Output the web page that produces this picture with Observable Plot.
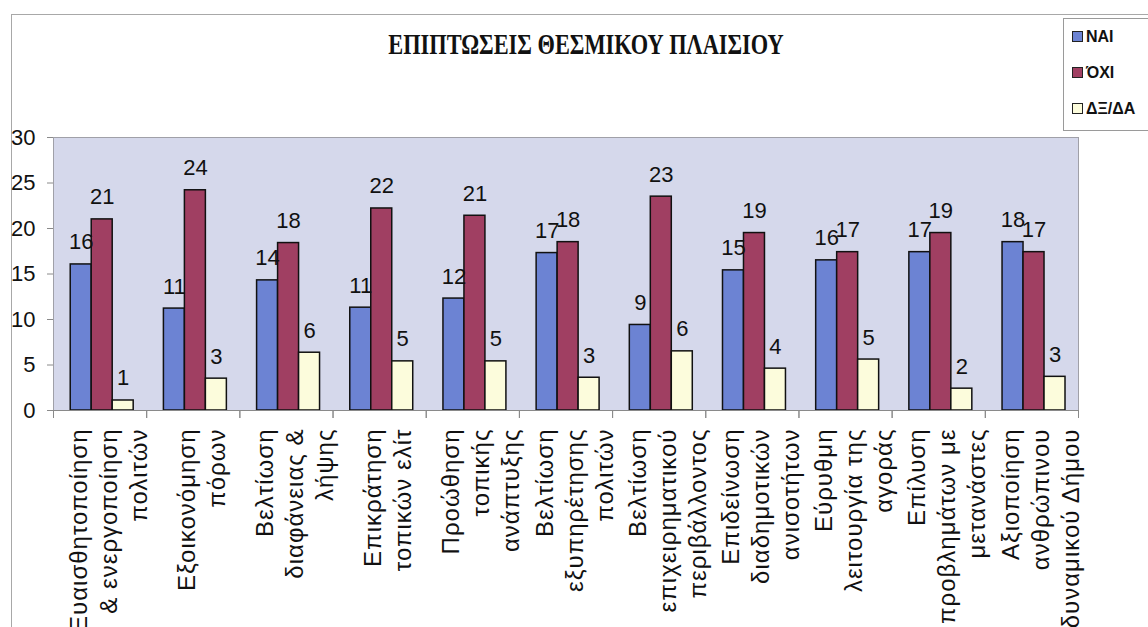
<!DOCTYPE html>
<html>
<head>
<meta charset="utf-8">
<script src="https://cdn.jsdelivr.net/npm/d3@7"></script>
<script src="https://cdn.jsdelivr.net/npm/@observablehq/plot@0.6"></script>
<style>
  html, body { margin: 0; padding: 0; background: #fff; }
  #wrap { position: relative; width: 1148px; height: 627px; overflow: hidden; background: #fff; }
  #border { position: absolute; left: 11px; top: 14px; width: 1200px; height: 700px; border-left: 1px solid #a8a8a8; border-top: 1px solid #a8a8a8; }
  #title { position: absolute; left: 586px; top: 32px; white-space: nowrap; font-family: "Liberation Serif", "Times New Roman", serif; font-weight: bold; font-size: 26px; line-height: 26px; color: #111; transform: translateX(-50%) scale(0.86, 1.14); transform-origin: 50% 50%; }
  #legend { position: absolute; left: 1063px; top: 18px; width: 90px; height: 111px; border: 1px solid #9a9a9a; background: #fff; font-family: "Liberation Sans", Arial, sans-serif; font-weight: bold; font-size: 16px; color: #111; }
  .item { position: absolute; left: 8px; height: 16px; line-height: 16px; white-space: nowrap; }
  .sw { display: inline-block; width: 9px; height: 9px; border: 1px solid #222; margin-right: 3px; vertical-align: 0px; }
  #chart { position: absolute; left: 0; top: 0; }
  g[aria-label="fx-axis tick label"] text { letter-spacing: 1px; }
</style>
</head>
<body>
<div id="wrap">
  <div id="border"></div>
  <div id="chart"></div>
  <div id="title"></div>
  <div id="legend"></div>
</div>
<script>
const titleText = "ΕΠΙΠΤΩΣΕΙΣ ΘΕΣΜΙΚΟΥ ΠΛΑΙΣΙΟΥ";

const categories = [
  "Ευαισθητοποίηση & ενεργοποίηση πολιτών",
  "Εξοικονόμηση πόρων",
  "Βελτίωση διαφάνειας & λήψης",
  "Επικράτηση τοπικών ελίτ",
  "Προώθηση τοπικής ανάπτυξης",
  "Βελτίωση εξυπηρέτησης πολιτών",
  "Βελτίωση επιχειρηματικού περιβάλλοντος",
  "Επιδείνωση διαδημοτικών ανισοτήτων",
  "Εύρυθμη λειτουργία της αγοράς",
  "Επίλυση προβλημάτων με μετανάστες",
  "Αξιοποίηση ανθρώπινου δυναμικού Δήμου"
];

const categoryLabels = [
  "Ευαισθητοποίηση\n& ενεργοποίηση\nπολιτών",
  "Εξοικονόμηση\nπόρων",
  "Βελτίωση\nδιαφάνειας &\nλήψης",
  "Επικράτηση\nτοπικών ελίτ",
  "Προώθηση\nτοπικής\nανάπτυξης",
  "Βελτίωση\nεξυπηρέτησης\nπολιτών",
  "Βελτίωση\nεπιχειρηματικού\nπεριβάλλοντος",
  "Επιδείνωση\nδιαδημοτικών\nανισοτήτων",
  "Εύρυθμη\nλειτουργία της\nαγοράς",
  "Επίλυση\nπροβλημάτων με\nμετανάστες",
  "Αξιοποίηση\nανθρώπινου\nδυναμικού Δήμου"
];

const series = ["ΝΑΙ", "ΌΧΙ", "ΔΞ/ΔΑ"];

const nai = [16.05, 11.2, 14.3, 11.3, 12.3, 17.3, 9.4, 15.4, 16.5, 17.4, 18.5];
const oxi = [21.0, 24.2, 18.4, 22.2, 21.4, 18.5, 23.5, 19.5, 17.4, 19.5, 17.4];
const dk  = [1.1, 3.5, 6.35, 5.4, 5.4, 3.6, 6.5, 4.6, 5.6, 2.4, 3.7];

const yTicks = [0, 5, 10, 15, 20, 25, 30];

const seriesColors = ["#6c83d3", "#a03f62", "#fcfcdc"];

const seriesValues = [nai, oxi, dk];
const data = categories.flatMap((c, i) =>
  series.map((s, j) => ({category: c, series: s, value: seriesValues[j][i]}))
);

const W = 1148, H = 627;
const mL = 53, mR = 70, mT = 137, mB = 217;
const plotH = H - mT - mB;
const tickLen = 7;

const chart = Plot.plot({
  width: W,
  height: H,
  marginLeft: mL,
  marginRight: mR,
  marginTop: mT,
  marginBottom: mB,
  style: {fontFamily: "'Liberation Sans', Arial, sans-serif", color: "#111", background: "transparent", overflow: "visible"},
  fx: {domain: categories, padding: 0, round: false, label: null},
  x: {domain: series, paddingInner: 0, paddingOuter: 0.72, align: 0.57, axis: null, round: false},
  y: {domain: [0, 30], label: null},
  color: {domain: series, range: seriesColors},
  marks: [
    Plot.frame({facet: "super", fill: "#d5d8eb", stroke: "#a0a0a8"}),
    // category boundary ticks below the axis
    Plot.frame({anchor: "left", stroke: "#8a8a8a", insetTop: plotH, insetBottom: -tickLen}),
    Plot.frame({anchor: "right", stroke: "#8a8a8a", insetTop: plotH, insetBottom: -tickLen}),
    Plot.barY(data, {fx: "category", x: "series", y: "value", fill: "series", stroke: "#111", strokeWidth: 1.5}),
    Plot.text(data, {fx: "category", x: "series", y: "value", text: d => Math.floor(d.value), lineAnchor: "bottom", dy: -15, fontSize: 22, fill: "#111"}),
    Plot.ruleY([0], {stroke: "#8a8a8a", strokeWidth: 1.2}),
    Plot.axisY({anchor: "left", ticks: yTicks, tickSize: 6, tickPadding: 12, fontSize: 22, stroke: "#8a8a8a", fill: "#111", tickFormat: d => String(d), label: null}),
    Plot.axisFx({
      anchor: "bottom", tickSize: 0, tickPadding: 18, rotate: -90,
      textAnchor: "end", lineAnchor: "middle", lineHeight: 1.25,
      fontSize: 24, fill: "#111", dx: 7, label: null,
      tickFormat: d => categoryLabels[categories.indexOf(d)]
    })
  ]
});
document.getElementById("chart").appendChild(chart);

document.getElementById("title").textContent = titleText;

const legend = document.getElementById("legend");
series.forEach((s, i) => {
  const item = document.createElement("div");
  item.className = "item";
  item.style.top = (10 + i * 36) + "px";
  const sw = document.createElement("span");
  sw.className = "sw";
  sw.style.background = seriesColors[i];
  item.appendChild(sw);
  item.appendChild(document.createTextNode(s));
  legend.appendChild(item);
});
</script>
</body>
</html>
